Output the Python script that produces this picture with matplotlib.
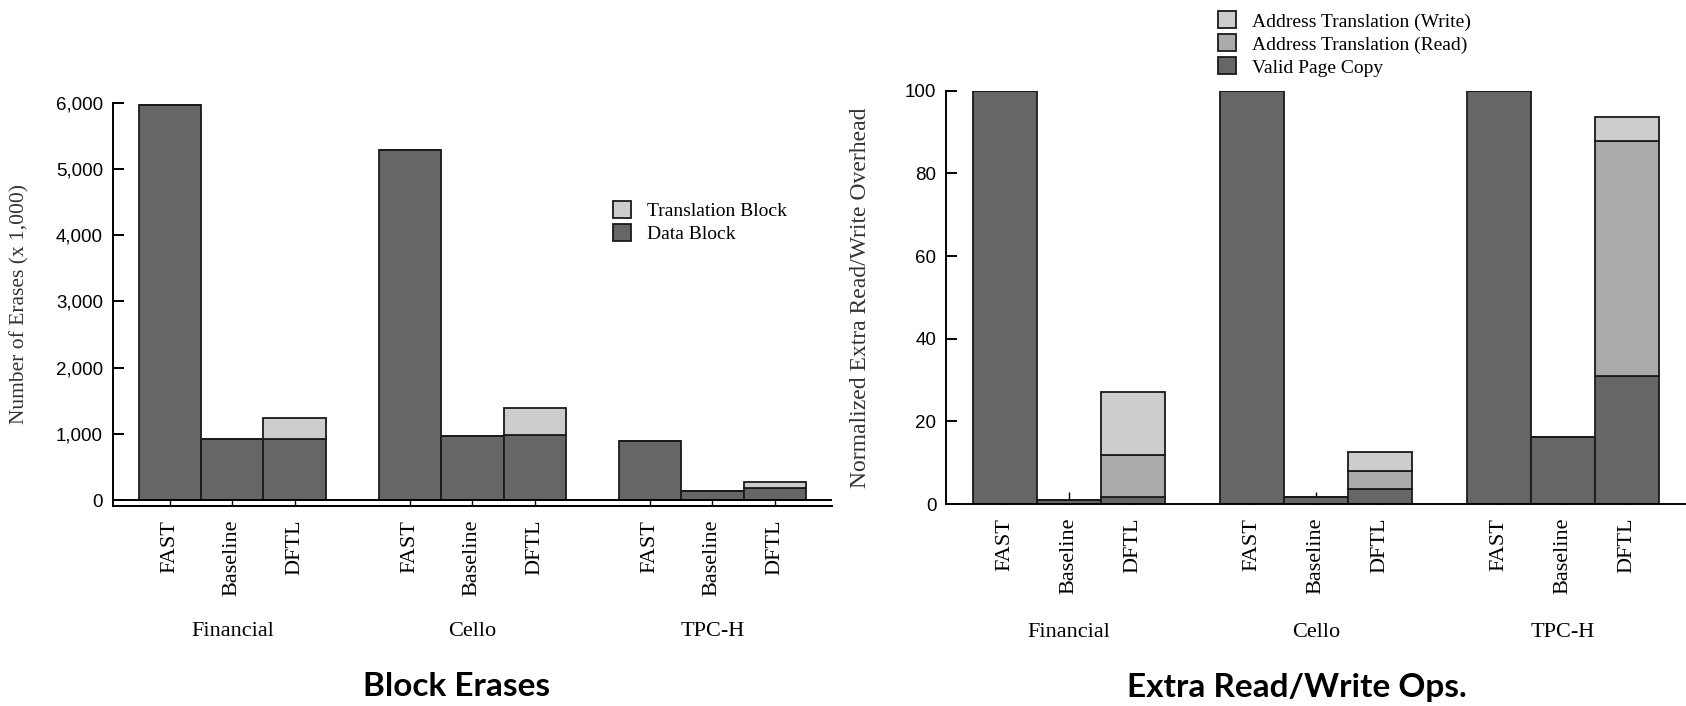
import matplotlib
matplotlib.use("Agg")
import matplotlib.pyplot as plt
import numpy as np
from matplotlib.patches import Patch
from matplotlib.ticker import FuncFormatter

# %%
# Values (group-major: FAST, Baseline, DFTL per trace)
traces = ["Financial", "Cello", "TPC-H"]
schemes = ["FAST", "Baseline", "DFTL"]

data_block = [5960, 915, 915, 5280, 970, 975, 890, 140, 185]
translation_block = [0, 0, 325, 0, 0, 415, 0, 0, 80]

valid_page_copy = [100, 1.0, 1.8, 100, 1.8, 3.7, 100, 16.1, 31.0]
trans_read = [0, 0, 10.1, 0, 0, 4.3, 0, 0, 56.9]
trans_write = [0, 0, 15.3, 0, 0, 4.7, 0, 0, 5.8]

DARK, MID, LIGHT = "#666666", "#aaaaaa", "#cdcdcd"
SERIF = "Liberation Serif"
SANS = "Liberation Sans"

group_step = 3.85
x = np.array([g * group_step + i for g in range(len(traces)) for i in range(len(schemes))])
xlabels = schemes * len(traces)
centers = np.array([g * group_step + 1 for g in range(len(traces))])

fig = plt.figure(figsize=(16.86, 7.06), dpi=100)
ax1 = fig.add_axes([0.0668, 0.2833, 0.4267, 0.5712])
ax2 = fig.add_axes([0.5611, 0.2861, 0.4389, 0.5854])

bar_kw = dict(width=1.0, edgecolor="#1a1a1a", linewidth=1.3)


def style_axes(ax, xtick_len):
    ax.set_axisbelow(True)
    for side in ("top", "right"):
        ax.spines[side].set_visible(False)
    for side in ("left", "bottom"):
        ax.spines[side].set_linewidth(1.4)
    ax.set_xlim(x[0] - 0.92, x[-1] + 0.92)
    ax.set_xticks(x)
    ax.set_xticklabels(xlabels, rotation=90, va="top", ha="center",
                       family=SERIF, fontsize=16)
    ax.tick_params(axis="x", direction="in", length=xtick_len, width=1.0, pad=10)
    ax.tick_params(axis="y", direction="in", length=8, width=1.4, pad=7,
                   labelsize=13.5)
    for lab in ax.get_yticklabels():
        lab.set_family(SANS)
    for c, name in zip(centers, traces):
        ax.text(c, -0.312, name, transform=ax.get_xaxis_transform(),
                ha="center", va="center", family=SERIF, fontsize=16)


# %%
# Block erases
ax1.bar(x, data_block, color=DARK, **bar_kw)
ax1.bar(x, translation_block, bottom=data_block, color=LIGHT, **bar_kw)
ax1.axhline(0, color="black", lw=1.4)
ax1.set_ylim(-90, 6000)
ax1.set_yticks(np.arange(0, 6001, 1000))
ax1.yaxis.set_major_formatter(FuncFormatter(lambda v, _: f"{int(v):,}"))
style_axes(ax1, 4.3)
ax1.set_ylabel("Number of Erases (x 1,000)", family=SERIF, fontsize=15.5,
               color="#333333")
ax1.yaxis.set_label_coords(-0.115, 0.5)

fig.legend(handles=[Patch(facecolor=LIGHT, edgecolor="#1a1a1a", lw=1.3),
                    Patch(facecolor=DARK, edgecolor="#1a1a1a", lw=1.3)],
           labels=["Translation Block", "Data Block"],
           loc="upper left", bbox_to_anchor=(0.3577, 0.7286), frameon=False,
           borderpad=0, handlelength=0.95, handleheight=0.95,
           handletextpad=0.8, labelspacing=0.2, prop={"family": SERIF, "size": 14})

# %%
# Extra read/write overhead
bottom_write = np.add(valid_page_copy, trans_read)
ax2.bar(x, valid_page_copy, color=DARK, **bar_kw)
ax2.bar(x, trans_read, bottom=valid_page_copy, color=MID, **bar_kw)
ax2.bar(x, trans_write, bottom=bottom_write, color=LIGHT, **bar_kw)
ax2.set_ylim(0, 100)
ax2.set_yticks(np.arange(0, 101, 20))
style_axes(ax2, 9)
ax2.set_ylabel("Normalized Extra Read/Write Overhead", family=SERIF, fontsize=17,
               color="#333333")
ax2.yaxis.set_label_coords(-0.102, 0.5)

fig.legend(handles=[Patch(facecolor=LIGHT, edgecolor="#1a1a1a", lw=1.3),
                    Patch(facecolor=MID, edgecolor="#1a1a1a", lw=1.3),
                    Patch(facecolor=DARK, edgecolor="#1a1a1a", lw=1.3)],
           labels=["Address Translation (Write)", "Address Translation (Read)",
                   "Valid Page Copy"],
           loc="upper left", bbox_to_anchor=(0.7165, 0.9976), frameon=False,
           borderpad=0, handlelength=0.95, handleheight=0.95,
           handletextpad=0.8, labelspacing=0.2, prop={"family": SERIF, "size": 14})

fig.text(0.2705, 0.0283, "Block Erases", ha="center", va="center",
         family="Lato", weight="bold", fontsize=24)
fig.text(0.7693, 0.0255, "Extra Read/Write Ops.", ha="center", va="center",
         family="Lato", weight="bold", fontsize=24)

fig.savefig("out.png", dpi=100)
